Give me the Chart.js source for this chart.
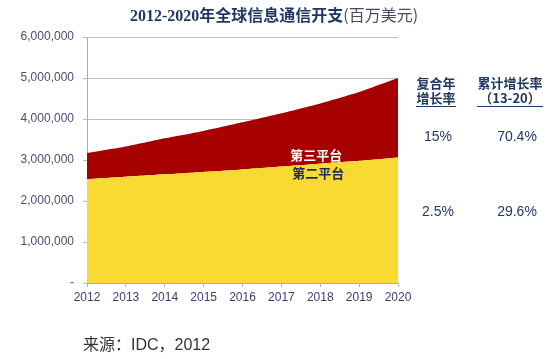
<!DOCTYPE html>
<html>
<head>
<meta charset="utf-8">
<script src="https://cdn.jsdelivr.net/npm/chart.js@4"></script>
<style>
  body { margin: 0; background: #fff; }
  #wrap { position: relative; width: 554px; height: 359px; overflow: hidden; }
  #chart { position: absolute; left: 0; top: 0; }
  .txt { position: absolute; white-space: nowrap; font-family: "Liberation Sans", "Noto Sans CJK SC", sans-serif; }
  #title { left: 0; width: 548px; top: 4px; text-align: center; font-size: 16px; line-height: 20px; color: #1f3864; font-weight: bold; font-family: "Liberation Serif", "Noto Sans CJK SC", serif; }
  #title span { font-weight: normal; color: #4a4a68; font-family: "Noto Sans CJK SC", sans-serif; }
  .head { font-size: 13px; font-weight: bold; color: #1f3864; text-align: center; line-height: 15px; font-family: "Noto Sans CJK SC", sans-serif; }
  .head u { text-decoration: none; border-bottom: 1.5px solid #1f3864; padding-bottom: 1px; display: inline-block; }
  .val { font-size: 14px; color: #1f3864; text-align: center; width: 60px; }
  #source { left: 83px; top: 331px; font-size: 16px; color: #333; }
</style>
</head>
<body>
<div id="wrap">
  <canvas id="chart" width="554" height="359"></canvas>
  <div id="title" class="txt">2012-2020年全球信息通信开支<span>(百万美元)</span></div>
  <div class="txt head" style="left:405px;top:75px;width:62px;"><u>复合年<br>增长率</u></div>
  <div class="txt head" style="left:469px;top:75px;width:82px;"><u>累计增长率<br>（13-20）</u></div>
  <div id="source" class="txt">来源：IDC，2012</div>
</div>
<script>
const years = ['2012', '2013', '2014', '2015', '2016', '2017', '2018', '2019', '2020'];
const secondPlatform = [2530000, 2590000, 2650000, 2710000, 2770000, 2840000, 2910000, 2980000, 3060000];
const thirdPlatform = [640000, 740000, 880000, 1000000, 1150000, 1300000, 1470000, 1680000, 1940000];
const cagr = ['15%', '2.5%'];
const cumulative = ['70.4%', '29.6%'];

// growth figures on the right, one row per platform
const rowTops = [128, 203];
const wrap = document.getElementById('wrap');
rowTops.forEach((top, i) => {
  [[cagr[i], 408], [cumulative[i], 487]].forEach(([text, left]) => {
    const d = document.createElement('div');
    d.className = 'txt val';
    d.style.left = left + 'px';
    d.style.top = top + 'px';
    d.textContent = text;
    wrap.appendChild(d);
  });
});

const areaLabels = {
  id: 'areaLabels',
  afterDatasetsDraw(chart) {
    const { ctx, scales: { x, y } } = chart;
    const px = x.getPixelForValue(6) - 4;
    ctx.save();
    ctx.font = 'bold 13px "Noto Sans CJK SC", sans-serif';
    ctx.textAlign = 'center';
    ctx.textBaseline = 'middle';
    ctx.fillStyle = '#ffffff';
    ctx.fillText('第三平台', px, y.getPixelForValue(3130000));
    ctx.fillStyle = '#1c2c5a';
    ctx.fillText('第二平台', px + 2, y.getPixelForValue(2670000));
    ctx.restore();
  }
};

new Chart(document.getElementById('chart').getContext('2d'), {
  type: 'line',
  data: {
    labels: years,
    datasets: [
      {
        label: '第二平台',
        data: secondPlatform,
        backgroundColor: '#f8da33',
        borderWidth: 0,
        pointRadius: 0,
        fill: 'origin',
        tension: 0.2
      },
      {
        label: '第三平台',
        data: thirdPlatform,
        backgroundColor: '#a70000',
        borderWidth: 0,
        pointRadius: 0,
        fill: '-1',
        tension: 0.2
      }
    ]
  },
  options: {
    responsive: false,
    animation: false,
    layout: { padding: { top: 37, right: 156, bottom: 52, left: 0 } },
    plugins: {
      legend: { display: false },
      tooltip: { enabled: false }
    },
    scales: {
      x: {
        offset: false,
        grid: { drawOnChartArea: false, drawTicks: true, tickLength: 4, color: '#a9adbd' },
        border: { color: '#a9adbd', width: 1 },
        ticks: { color: '#3c3c70', font: { family: 'Liberation Sans', size: 12 }, padding: 3, maxRotation: 0 },
        afterFit: (scale) => { scale.height = 24; }
      },
      y: {
        stacked: true,
        min: 0,
        max: 6000000,
        grid: { color: '#b9bdcd', tickLength: 4 },
        border: { color: '#a9adbd', width: 1 },
        ticks: {
          stepSize: 1000000,
          color: '#4b4b73',
          font: { family: 'Liberation Sans', size: 12 },
          padding: 9,
          callback: (v) => v === 0 ? '-' : v.toLocaleString('en-US')
        },
        afterFit: (scale) => { scale.width = 87; }
      }
    }
  },
  plugins: [areaLabels]
});
</script>
</body>
</html>
